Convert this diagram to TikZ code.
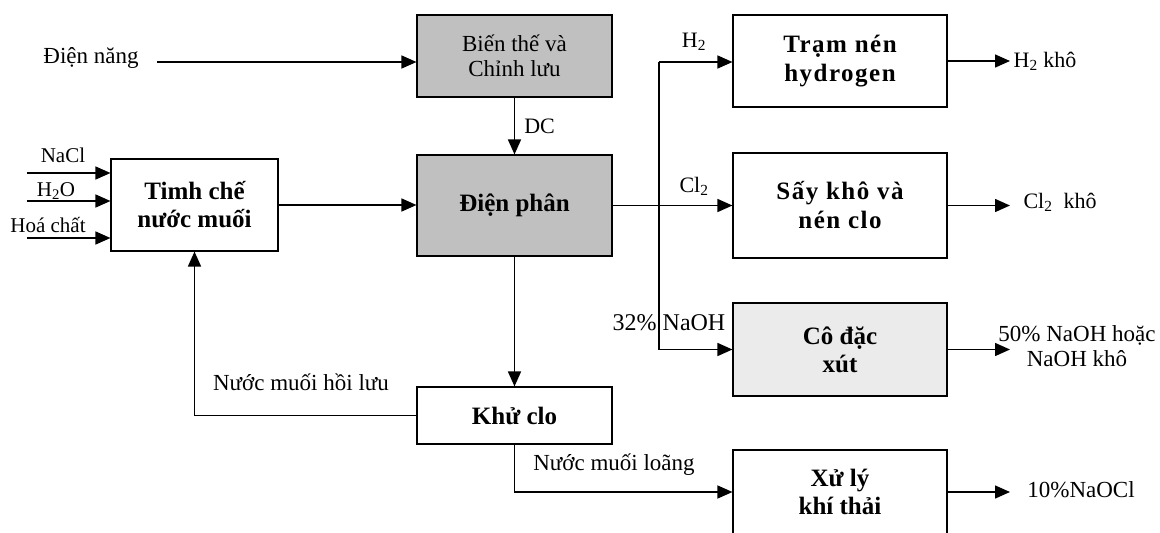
\documentclass[tikz,border=0pt]{standalone}
\usepackage{fontspec}
\setmainfont{Liberation Serif}
\usetikzlibrary{arrows.meta, positioning}
\definecolor{cellGrey}{HTML}{C0C0C0}
\definecolor{paleGrey}{HTML}{EBEBEB}

\begin{document}
\begin{tikzpicture}[x=1pt, y=-1pt,
   unit/.style={rectangle, draw=black, line width=1.1pt, fill=white,
                align=center, inner sep=2pt,
                font=\bfseries\fontsize{25}{28}\selectfont},
   spaced/.style={font=\bfseries\fontsize{25}{29}\selectfont\addfontfeature{LetterSpace=6}},
   tag/.style={inner sep=0pt, align=center, font=\fontsize{22}{25}\selectfont},
   flow/.style={-{Triangle[length=15pt, width=13pt]}, line width=1.5pt}]
\useasboundingbox (0,0) rectangle (1160,533);

% process units
\node[unit, fill=cellGrey, minimum width=195pt, minimum height=82pt,
      font=\fontsize{23}{25}\selectfont] (bt) at (514.5,56)
  {Biến thế và\\Chỉnh lưu};
\node[unit, fill=cellGrey, minimum width=195pt, minimum height=101pt]
  (dp) at (514.5,205.5) {Điện phân};
\node[unit, minimum width=167pt, minimum height=92pt] (tc) at (194.5,205)
  {Timh chế\\nước muối};
\node[unit, minimum width=195pt, minimum height=57pt] (kc) at (514.5,415.5)
  {Khử clo};
\node[unit, spaced, minimum width=214pt, minimum height=92pt] (tn) at (840,61)
  {Trạm nén\\hydrogen};
\node[unit, spaced, minimum width=214pt, minimum height=105pt] (sk) at (840,205.5)
  {Sấy khô và\\nén clo};
\node[unit, fill=paleGrey, minimum width=214pt, minimum height=93pt]
  (cd) at (840,349.5) {Cô đặc\\xút};
\node[unit, minimum width=214pt, minimum height=84pt] (xl) at (840,492)
  {Xử lý\\khí thải};

% power supply
\node[tag, font=\fontsize{23}{26}\selectfont] (en) at (91,58) {Điện năng};
\coordinate (enIn) at (157,62);
\draw[flow] (enIn) -- (enIn -| bt.west);
\draw[flow] (bt) -- (dp) node[tag, midway, right=9pt] (dcTag) {DC};

% brine feed
\foreach \i/\y/\lx/\ly/\t in {1/173/63/155/NaCl,
                              2/201/56/191/H\textsubscript{2}O,
                              3/238/48/225/Hoá chất} {
  \coordinate (in\i) at (27,\y);
  \draw[flow] (in\i) -- (in\i -| tc.west);
  \node[tag, font=\fontsize{21}{24}\selectfont] (inTag\i) at (\lx,\ly) {\t};
}
\draw[flow] (tc.east) -- (tc.east -| dp.west);

% cell products
\draw[flow] (dp) -- (sk);
\node[tag] (clTag) at (694,186) {Cl\textsubscript{2}};
\coordinate (hTop) at (659,62);
\draw[flow] (hTop) -- (hTop -| tn.west);
\draw[flow] (hTop) |- (cd.west);
\node[tag] (hTag) at (694,42) {H\textsubscript{2}};
\node[tag, font=\fontsize{24}{27}\selectfont] (naTag) at (669,323) {32\% NaOH};

% dechlorination loop
\draw[flow] (dp) -- (kc);
\draw[flow] (kc.west) -| (tc.south);
\node[tag, font=\fontsize{23}{26}\selectfont] (rcTag) at (301,382) {Nước muối hồi lưu};
\draw[flow] (kc.south) |- (xl.west);
\node[tag, font=\fontsize{23}{26}\selectfont] (lgTag) at (614,465) {Nước muối loãng};

% outputs
\coordinate (outEnd) at (1010,0);
\foreach \b in {tn,sk,cd,xl}
  \draw[flow] (\b.east) -- (\b.east -| outEnd);
\node[tag] (o1) at (1045,61) {H\textsubscript{2} khô};
\node[tag] (o2) at (1060,202) {Cl\textsubscript{2}~~khô};
\node[tag, font=\fontsize{23}{25}\selectfont] (o3) at (1077,346)
  {50\% NaOH hoặc\\NaOH khô};
\node[tag, font=\fontsize{23}{26}\selectfont] (o4) at (1081,490) {10\%NaOCl};
\end{tikzpicture}
\end{document}
